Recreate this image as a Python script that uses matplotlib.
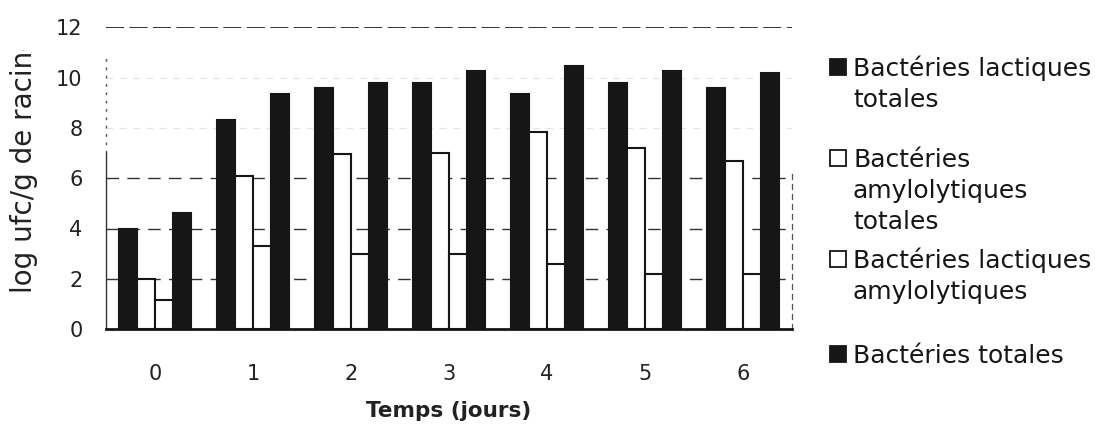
import matplotlib
matplotlib.use("Agg")
import matplotlib.pyplot as plt
import numpy as np
from matplotlib.patches import Rectangle
from matplotlib.transforms import Bbox, TransformedBbox

# log ufc/g de racine, par jour de fermentation
jours = ["0", "1", "2", "3", "4", "5", "6"]
lactiques_totales = [4.0, 8.3, 9.6, 9.8, 9.35, 9.8, 9.6]
amylolytiques_totales = [2.0, 6.1, 6.95, 7.0, 7.85, 7.2, 6.7]
lactiques_amylolytiques = [1.15, 3.3, 3.0, 3.0, 2.6, 2.2, 2.2]
bacteries_totales = [4.6, 9.35, 9.8, 10.25, 10.45, 10.25, 10.2]

series = [lactiques_totales, amylolytiques_totales,
          lactiques_amylolytiques, bacteries_totales]
noms = ["Bactéries lactiques\ntotales",
        "Bactéries\namylolytiques\ntotales",
        "Bactéries lactiques\namylolytiques",
        "Bactéries totales"]
couleurs = ["#161616", "white", "white", "#161616"]
yticks = [0, 2, 4, 6, 8, 10, 12]

W, H = 1104, 424
fig = plt.figure(figsize=(W / 100, H / 100), dpi=100)
ax = fig.add_axes([106 / W, 1 - 329 / H, 686 / W, 301.5 / H])

x = np.arange(len(jours))
larg = 0.184
for i, (vals, c) in enumerate(zip(series, couleurs)):
    ax.bar(x + (i - 1.5) * larg, vals, width=larg, color=c,
           edgecolor="#161616", linewidth=1.5, zorder=3)

# quadrillage en tirets
for yv in yticks[1:]:
    if yv in (8, 10):
        ax.axhline(yv, color="#e4e4e4", lw=0.8, ls=(0, (6, 6)), zorder=1)
    elif yv == 12:
        ax.axhline(yv, color="#222222", lw=1.3, ls=(0, (10, 3)), zorder=1)
    else:
        ax.axhline(yv, color="#333333", lw=1.0, ls=(0, (9, 6)), zorder=1)

ax.set_xlim(-0.5, len(jours) - 0.5)
ax.set_ylim(0, 12)
ax.set_xticks(x)
ax.set_xticklabels(jours)
ax.set_yticks(yticks)
ax.tick_params(axis="both", length=0, labelsize=15, labelcolor="#222222")
ax.tick_params(axis="y", pad=17)
ax.tick_params(axis="x", pad=25)

ax.spines["top"].set_visible(False)
ax.spines["bottom"].set_linewidth(2)
ax.spines["bottom"].set_color("#161616")
ax.spines["left"].set_color("#333333")
ax.spines["left"].set_linewidth(1)
ax.spines["left"].set_bounds(0, 7)
ax.axvline(-0.5, ymin=7 / 12, ymax=11 / 12, color="#555555", lw=1,
           ls=(0, (2, 4)), clip_on=False)
ax.spines["right"].set_linestyle((0, (4, 4)))
ax.spines["right"].set_color("#555555")
ax.spines["right"].set_linewidth(0.9)
ax.spines["right"].set_bounds(0, 6.2)

fig.text(449 / W, 1 - 417 / H, "Temps (jours)", ha="center", va="baseline",
         fontsize=15.5, fontweight="bold", color="#222222")

ylab = fig.text(24 / W, 1 - 293 / H, "log ufc/g de racine", rotation=90,
                ha="center", va="bottom", fontsize=20, color="#222222")
ylab.set_clip_box(TransformedBbox(Bbox([[0, 0], [0.1, 1 - 50 / H]]),
                                  fig.transFigure))
ylab.set_clip_on(True)

# légende à droite, carré aligné sur la première ligne
bases = [76, 167, 268, 363]
for nom, c, b in zip(noms, couleurs, bases):
    fig.patches.append(Rectangle((830 / W, 1 - (b - 1) / H), 16 / W, 16 / H,
                                 transform=fig.transFigure, facecolor=c,
                                 edgecolor="#161616", linewidth=1.3))
    for k, ligne in enumerate(nom.split("\n")):
        fig.text(853 / W, 1 - (b + 31 * k) / H, ligne, ha="left",
                 va="baseline", fontsize=18, color="#161616")

fig.savefig("out.png", dpi=100)
